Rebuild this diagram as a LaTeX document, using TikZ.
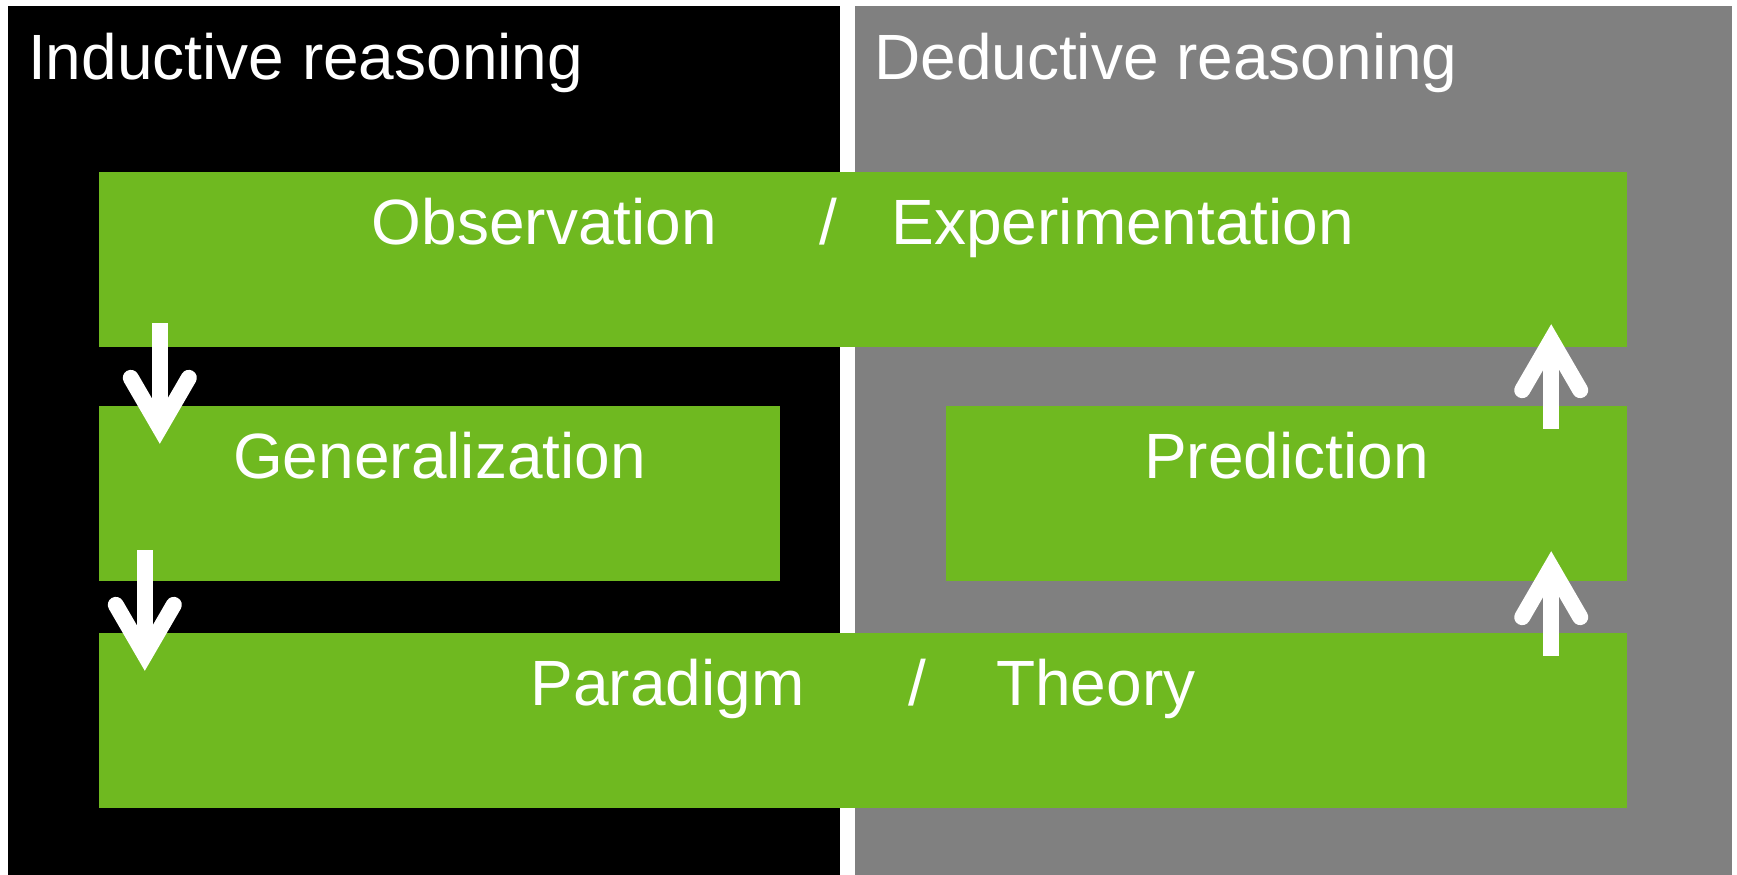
\documentclass[tikz,border=0pt]{standalone}
\usepackage{fontspec}
\setmainfont{Liberation Sans}
\usepackage{tikz}
\usetikzlibrary{arrows.meta}
\definecolor{leafgreen}{RGB}{111,185,32}
\definecolor{deductgray}{RGB}{128,128,128}

\begin{document}
\begin{tikzpicture}[x=1pt,y=1pt,yscale=-1,xscale=1,
  greenbox/.style={fill=leafgreen,draw=none,inner sep=0pt,text=white,
    font=\fontsize{64}{76}\selectfont,text height=50pt,text depth=80pt,
    minimum height=175pt},
  heading/.style={anchor=base west,inner sep=0pt,text=white,
    font=\fontsize{64}{76}\selectfont},
  whitearrow/.style={draw=white,line width=16pt,
    -{Straight Barb[length=50pt,width=58pt,line cap=round,line join=miter]}}]
\useasboundingbox (0,0) rectangle (1737,875);
% panels
\fill [black] (8,6) rectangle (840,875);
\fill [deductgray] (855,6) rectangle (1732,875);
\node [heading] (indhead) at (28,79) {Inductive reasoning};
\node [heading] (dedhead) at (874,79) {Deductive reasoning};
% boxes
\node [greenbox,minimum width=1528pt] (obs) at (863,259.5) {Observation\hspace{103pt}/\hspace{54pt}Experimentation};
\node [greenbox,minimum width=681pt] (gen) at (439.5,493.5) {Generalization};
\node [greenbox,minimum width=681pt] (pred) at (1286.5,493.5) {Prediction};
\node [greenbox,minimum width=1528pt] (par) at (863,720.5) {Paradigm\hspace{104pt}/\hspace{70pt}Theory};
% arrows
\draw [whitearrow,shorten <=-24pt,shorten >=-38pt] ([xshift=61pt]obs.south west) -- ([xshift=61pt]gen.north west);
\draw [whitearrow,shorten <=-31pt,shorten >=-38pt] ([xshift=46pt]gen.south west) -- ([xshift=46pt]par.north west);
\draw [whitearrow,shorten <=-23pt,shorten >=-30pt] ([xshift=-76pt]par.north east) -- ([xshift=-76pt]pred.south east);
\draw [whitearrow,shorten <=-23pt,shorten >=-23pt] ([xshift=-76pt]pred.north east) -- ([xshift=-76pt]obs.south east);
\end{tikzpicture}
\end{document}
